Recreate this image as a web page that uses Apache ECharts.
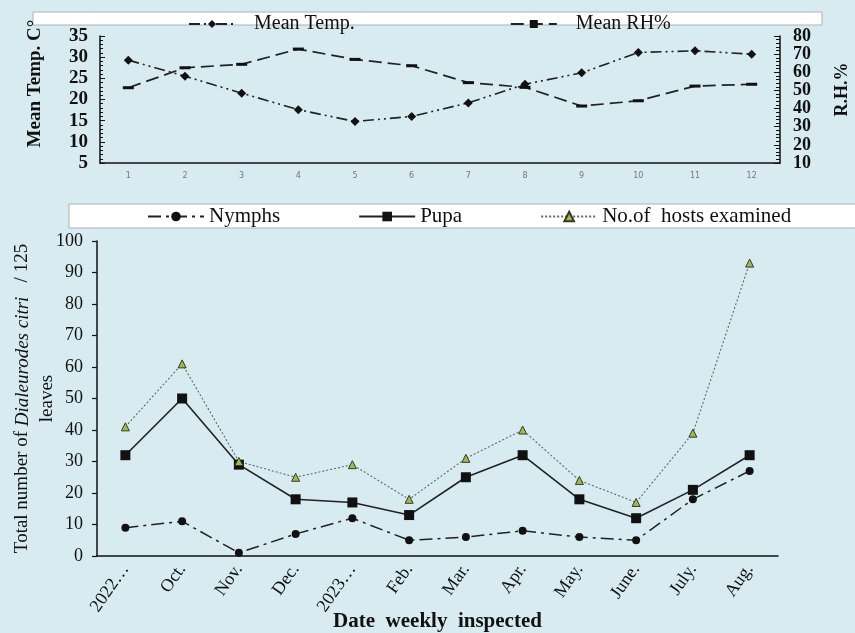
<!DOCTYPE html>
<html>
<head>
<meta charset="utf-8">
<script src="https://cdn.jsdelivr.net/npm/echarts@6/dist/echarts.min.js"></script>
<style>
  html, body { margin: 0; padding: 0; background: #d7ebf1; }
  #chart { width: 855px; height: 633px; }
</style>
</head>
<body>
<div id="chart"></div>
<script>
// Weather panel: weekly index, mean temperature and relative humidity
const weekIdx = ['1', '2', '3', '4', '5', '6', '7', '8', '9', '10', '11', '12'];
const meanTemp = [29.3, 25.5, 21.5, 17.6, 14.8, 16.0, 19.2, 23.6, 26.3, 31.1, 31.5, 30.7];
const meanRH = [51.5, 62.5, 64.4, 72.8, 67.1, 63.6, 54.3, 51.7, 41.4, 44.3, 52.4, 53.4];

// Population panel: counts per 125 leaves
const months = ['2022…', 'Oct.', 'Nov.', 'Dec.', '2023…', 'Feb.', 'Mar.', 'Apr.', 'May.', 'June.', 'July.', 'Aug.'];
const nymphs = [9, 11, 1, 7, 12, 5, 6, 8, 6, 5, 18, 27];
const pupa = [32, 50, 29, 18, 17, 13, 25, 32, 18, 12, 21, 32];
const hosts = [41, 61, 30, 25, 29, 18, 31, 40, 24, 17, 39, 93];

const serif = '"Liberation Serif", "Times New Roman", serif';
const ink = '#111';

const chart = echarts.init(document.getElementById('chart'));

chart.setOption({
  backgroundColor: '#d7ebf1',
  animation: false,
  textStyle: { fontFamily: serif, color: ink },
  graphic: [
    { type: 'rect', z: 0, shape: { x: 33, y: 12, width: 789, height: 13 },
      style: { fill: '#ffffff', stroke: '#a9b3b8', lineWidth: 1 } },
    { type: 'rect', z: 0, shape: { x: 69, y: 204, width: 800, height: 24 },
      style: { fill: '#ffffff', stroke: '#a9b3b8', lineWidth: 1 } }
  ],
  legend: [
    {
      data: ['Mean Temp.', 'Mean RH%'],
      left: 188, top: 14, padding: 0,
      itemWidth: 46, itemHeight: 10, itemGap: 155,
      textStyle: { fontFamily: serif, fontSize: 20, color: ink, padding: [0, 0, 0, 14] }
    },
    {
      data: ['Nymphs', 'Pupa', 'No.of  hosts examined'],
      left: 147, top: 206, padding: 0,
      itemWidth: 56, itemHeight: 12, itemGap: 78,
      textStyle: { fontFamily: serif, fontSize: 21, color: ink }
    }
  ],
  grid: [
    { left: 100, right: 75, top: 36, bottom: 470, outerBoundsMode: 'none', containLabel: false },
    { left: 97, right: 77, top: 241, bottom: 77, outerBoundsMode: 'none', containLabel: false }
  ],
  xAxis: [
    {
      type: 'category', gridIndex: 0, data: weekIdx, boundaryGap: true,
      axisLine: { lineStyle: { color: ink, width: 1.5 } },
      axisTick: { length: 3, lineStyle: { color: ink } },
      axisLabel: { fontFamily: 'DejaVu Sans', fontSize: 8, color: '#777', margin: 9 }
    },
    {
      type: 'category', gridIndex: 0, data: weekIdx, boundaryGap: true, position: 'bottom',
      axisLine: { show: false },
      axisTick: { alignWithLabel: true, inside: true, length: 3, lineStyle: { color: ink } },
      axisLabel: { show: false }
    },
    {
      type: 'category', gridIndex: 1, data: months, boundaryGap: true,
      axisLine: { lineStyle: { color: ink, width: 1.5 } },
      axisTick: { length: 5, lineStyle: { color: ink, width: 1.2 } },
      axisLabel: { fontFamily: serif, fontSize: 18, color: ink, rotate: 55, margin: 10, interval: 0, hideOverlap: false },
      name: 'Date  weekly  inspected', nameLocation: 'middle', nameGap: 55, nameMoveOverlap: false,
      nameTextStyle: { fontFamily: serif, fontSize: 21, fontWeight: 'bold', color: ink }
    }
  ],
  yAxis: [
    {
      type: 'value', gridIndex: 0, min: 5, max: 35, interval: 5,
      splitLine: { show: false },
      axisLine: { show: true, lineStyle: { color: ink, width: 1.5 } },
      axisTick: { show: true, inside: true, length: 5, lineStyle: { color: ink } },
      minorTick: { show: true, splitNumber: 5, length: 3, lineStyle: { color: ink } },
      axisLabel: { fontFamily: serif, fontSize: 19, fontWeight: 'bold', color: ink, margin: 12,
        hideOverlap: false, showMinLabel: true, showMaxLabel: true },
      name: 'Mean Temp. C°', nameLocation: 'middle', nameGap: 55, nameRotate: 90, nameMoveOverlap: false,
      nameTextStyle: { fontFamily: serif, fontSize: 19, fontWeight: 'bold', color: ink, padding: [0, 0, 0, 32] }
    },
    {
      type: 'value', gridIndex: 0, position: 'right', min: 10, max: 80, interval: 10,
      splitLine: { show: false },
      axisLine: { show: true, lineStyle: { color: ink, width: 1.5 } },
      axisTick: { show: true, inside: true, length: 6, lineStyle: { color: ink } },
      minorTick: { show: true, splitNumber: 5, length: 4, lineStyle: { color: ink } },
      axisLabel: { fontFamily: serif, fontSize: 18, fontWeight: 'bold', color: ink, margin: 13,
        hideOverlap: false, showMinLabel: true, showMaxLabel: true },
      name: 'R.H.%', nameLocation: 'middle', nameGap: 53, nameRotate: 90, nameMoveOverlap: false,
      nameTextStyle: { fontFamily: serif, fontSize: 18, fontWeight: 'bold', color: ink, padding: [0, 0, 0, 20] }
    },
    {
      type: 'value', gridIndex: 1, min: 0, max: 100, interval: 10,
      splitLine: { show: false },
      axisLine: { show: true, lineStyle: { color: ink, width: 1.5 } },
      axisTick: { show: true, length: 5, lineStyle: { color: ink, width: 1.2 } },
      axisLabel: { fontFamily: serif, fontSize: 18, color: ink, margin: 14, hideOverlap: false },
      name: 'Total number of {i|Dialeurodes citri}   / 125\nleaves',
      nameLocation: 'middle', nameGap: 37, nameRotate: 90, nameMoveOverlap: false,
      nameTextStyle: {
        fontFamily: serif, fontSize: 19, color: ink, lineHeight: 25, align: 'center',
        rich: { i: { fontFamily: serif, fontSize: 19, fontStyle: 'italic', color: ink, lineHeight: 25 } }
      }
    }
  ],
  series: [
    {
      name: 'Mean Temp.', type: 'line', xAxisIndex: 0, yAxisIndex: 0, data: meanTemp,
      symbol: 'diamond', symbolSize: 9, color: ink,
      itemStyle: { color: ink },
      lineStyle: { color: '#222', width: 1.6, type: [11, 4, 2, 4, 2, 4] }
    },
    {
      name: 'Mean RH%', type: 'line', xAxisIndex: 0, yAxisIndex: 1, data: meanRH,
      symbol: 'rect', symbolSize: [11, 3], color: ink,
      itemStyle: { color: ink },
      lineStyle: { color: '#222', width: 1.7, type: [13, 6] }
    },
    {
      name: 'Nymphs', type: 'line', xAxisIndex: 2, yAxisIndex: 2, data: nymphs,
      symbol: 'circle', symbolSize: 8, color: ink,
      itemStyle: { color: ink },
      lineStyle: { color: '#222', width: 1.5, type: [13, 5, 3, 5] }
    },
    {
      name: 'Pupa', type: 'line', xAxisIndex: 2, yAxisIndex: 2, data: pupa,
      symbol: 'rect', symbolSize: 10, color: ink,
      itemStyle: { color: ink },
      lineStyle: { color: '#222', width: 1.6 }
    },
    {
      name: 'No.of  hosts examined', type: 'line', xAxisIndex: 2, yAxisIndex: 2, data: hosts,
      symbol: 'triangle', symbolSize: 8, color: '#9bbb59',
      itemStyle: { color: '#9bbb59', borderColor: '#3a3a1a', borderWidth: 1 },
      lineStyle: { color: '#666', width: 1.1, type: [2, 2] }
    }
  ]
});
</script>
</body>
</html>
